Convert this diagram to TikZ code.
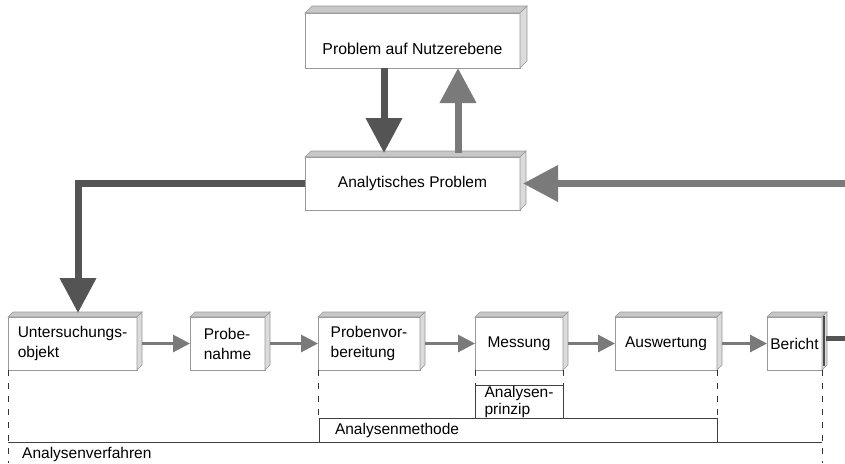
\documentclass[tikz,border=0pt]{standalone}
\usepackage{fontspec}
\setmainfont{Liberation Sans}
\usetikzlibrary{arrows.meta}
\definecolor{darkarrow}{gray}{0.33}
\definecolor{midarrow}{gray}{0.48}
\definecolor{facetop}{gray}{0.78}
\definecolor{faceside}{gray}{0.86}
\definecolor{edge}{gray}{0.6}
\tikzset{
  quader/.style={draw=edge, fill=white, line width=0.8pt, minimum height=53pt, align=left,
    inner sep=0pt, outer sep=0pt, font=\fontsize{15.5}{20}\selectfont},
  rahmen/.style={draw=black!75, line width=0.8pt, inner sep=0pt, outer sep=0pt,
    font=\fontsize{15.5}{17}\selectfont},
  bigpfeil/.style={line width=7pt, -{Triangle[length=35pt,width=35pt]}},
  pfeil/.style={line width=3pt, midarrow, -{Triangle[length=17pt,width=17pt]}},
  grenze/.style={black!80, line width=1pt, dash pattern=on 6pt off 7pt}
}
\begin{document}
\begin{tikzpicture}[x=1pt,y=-1pt]
  \useasboundingbox (0,0) rectangle (845,463);

  \node[quader, minimum width=215pt, minimum height=55pt, font=\fontsize{15.8}{20}\selectfont] (nutzer) at (412.5,40.5)
    {\raisebox{-13.5pt}[0pt][0pt]{Problem auf Nutzerebene}};
  \node[quader, minimum width=215pt] (analyt) at (412.5,183.5) {Analytisches Problem};

  \node[quader, minimum width=129pt] (unters) at (72.5,343.5) {Untersuchungs-\\objekt};
  \node[quader, minimum width=75pt] (probe) at (227.5,343.5) {Probe-\\nahme};
  \node[quader, minimum width=102pt] (vorb) at (369,343.5) {Probenvor-\\bereitung};
  \node[quader, minimum width=88pt] (mess) at (519,343.5) {Messung};
  \node[quader, minimum width=102pt] (ausw) at (666,343.5) {Auswertung};
  \node[quader, minimum width=55pt] (bericht) at (794.5,343.5) {Bericht};

  \foreach \n/\d in {nutzer/7,analyt/6,unters/5,probe/5,vorb/5,mess/5,ausw/5,bericht/5}{
    \filldraw[fill=facetop, draw=edge, line width=0.6pt] (\n.north west) -- ++(\d,-\d)
      -- ([shift={(\d,-\d)}]\n.north east) -- (\n.north east) -- cycle;
    \filldraw[fill=faceside, draw=edge, line width=0.6pt] (\n.north east) -- ++(\d,-\d)
      -- ([shift={(\d,-\d)}]\n.south east) -- (\n.south east) -- cycle;
  }
  \draw[black!70, line width=1.2pt] (824,316) -- (824,366);

  \coordinate (rein) at (845,183.5);
  \coordinate (raus) at (845,338);
  \draw[bigpfeil, darkarrow] ([xshift=-28.5pt]nutzer.south) -- ([xshift=-28.5pt,yshift=4pt]analyt.north);
  \draw[bigpfeil, midarrow] ([xshift=45.5pt,yshift=4pt]analyt.north) -- ([xshift=45.5pt]nutzer.south);
  \draw[bigpfeil, midarrow] (rein) -- ([xshift=3pt]analyt.east);
  \draw[bigpfeil, darkarrow] (analyt.west) -| ([xshift=5.5pt,yshift=4pt]unters.north);

  \foreach \a/\b in {unters/probe,probe/vorb,vorb/mess,mess/ausw,ausw/bericht}
    \draw[pfeil] ([xshift=5pt]\a.east) -- (\b.west);
  \draw[darkarrow, line width=5pt] ([xshift=4pt]raus -| bericht.east) -- (raus);

  \node[rahmen, minimum width=88pt, minimum height=33pt, align=left] (prinzip) at (519,401.5) {Analysen-\\prinzip};
  \node[rahmen, minimum width=398pt, minimum height=24pt, text width=366pt, align=left] (methode) at (518,430) {Analysenmethode};

  \coordinate (vl) at (8,442);
  \coordinate (vr) at (822,442);
  \draw[black!75, line width=0.8pt] (vl) -- (vr);
  \node[anchor=west, inner sep=0pt, font=\fontsize{15.5}{17}\selectfont] (verfahren) at (22,454) {Analysenverfahren};

  \coordinate (ul) at (8,463);
  \coordinate (bl) at (822,463);
  \draw[grenze] (unters.south west) -- (ul);
  \draw[grenze] (bericht.south east) -- (bl);
  \draw[grenze] (vorb.south west) -- (vorb.south west |- methode.north);
  \draw[grenze] (ausw.south east) -- (ausw.south east |- methode.north);
  \draw[grenze] (mess.south west) -- (prinzip.north west);
  \draw[grenze] (mess.south east) -- (prinzip.north east);
\end{tikzpicture}
\end{document}
